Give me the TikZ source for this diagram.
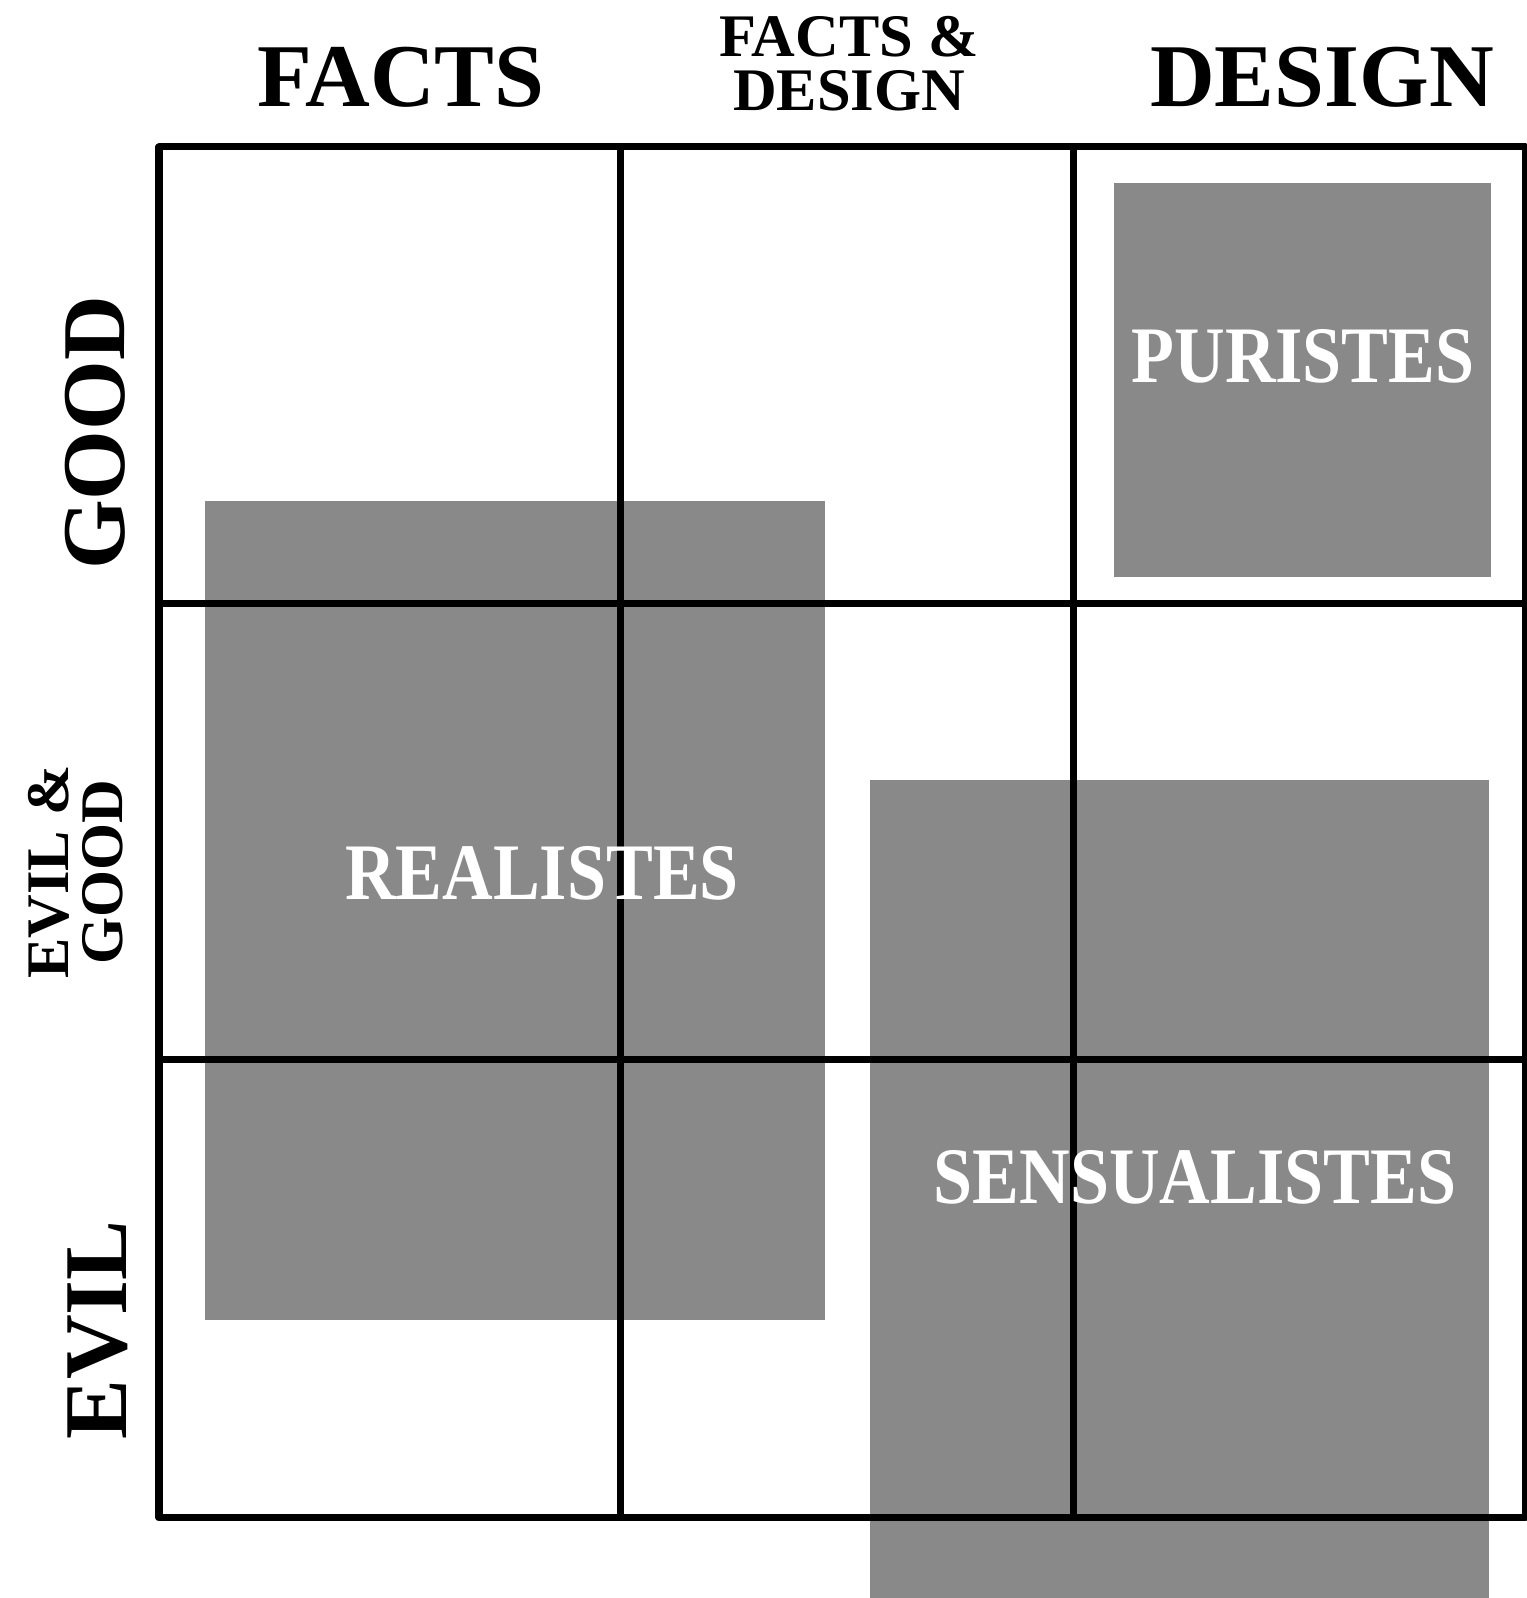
\documentclass[tikz,border=0pt]{standalone}
\usepackage{fontspec}
\setmainfont{Liberation Serif}
\newfontfamily\narrowserif[FakeStretch=0.875]{Liberation Serif}
\usepackage{xcolor}
\usetikzlibrary{positioning}
\definecolor{zonegray}{HTML}{898989}

\begin{document}
\begin{tikzpicture}[
      x=1cm, y=1cm,
      head/.style={inner sep=0pt, font=\fontsize{25.5}{30}\selectfont\bfseries},
      subhead/.style={inner sep=0pt, align=center, font=\fontsize{17.2}{15.3}\selectfont\bfseries},
      school/.style={inner sep=0pt, text=white, font=\narrowserif\fontsize{22.8}{26}\selectfont\bfseries},
      zone/.style={fill=zonegray},
      rule/.style={line width=0.07cm, line join=round}
  ]
    \useasboundingbox (0,0) rectangle (15.27,15.98);
    % shaded groups
    \fill[zone] (11.14,10.21) rectangle (14.91,14.15);
    \fill[zone] (2.05,2.78) rectangle (8.25,10.97);
    \fill[zone] (8.70,0) rectangle (14.89,8.18);
    % grid
    \draw[rule] (1.59,0.80) rectangle (15.25,14.51);
    \draw[rule] (6.20,0.80) -- (6.20,14.51);
    \draw[rule] (10.73,0.80) -- (10.73,14.51);
    \draw[rule] (1.59,9.94) -- (15.25,9.94);
    \draw[rule] (1.59,5.38) -- (15.25,5.38);
    % column heads
    \node[head, anchor=base] (facts) at (4.01,14.91) {FACTS};
    \node[subhead] (factsdesign) at (8.49,15.34) {FACTS \&\\DESIGN};
    \node[head, anchor=base] (design) at (13.22,14.91) {DESIGN};
    % row heads
    \node[head, anchor=base, rotate=90] (good) at (1.24,11.65) {GOOD};
    \node[subhead, rotate=90] (evilgood) at (0.76,7.26) {EVIL \&\\GOOD};
    \node[head, anchor=base, rotate=90] (evil) at (1.26,2.68) {EVIL};
    % schools
    \node[school, anchor=base] (puristes) at (13.03,12.15) {PURISTES};
    \node[school, anchor=base] (realistes) at (5.42,6.98) {REALISTES};
    \node[school, anchor=base] (sensualistes) at (11.95,3.94) {SENSUALISTES};
  \end{tikzpicture}
\end{document}
